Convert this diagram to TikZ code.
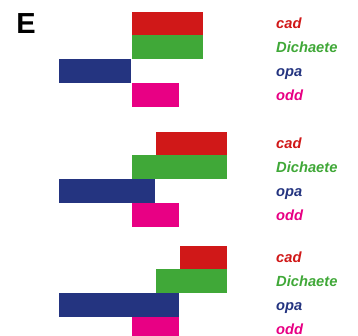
\documentclass[tikz,border=0pt]{standalone}
\usepackage{fontspec}
\setmainfont{Liberation Sans}
\definecolor{cadred}{RGB}{208,24,24}
\definecolor{dichgreen}{RGB}{64,168,56}
\definecolor{opablue}{RGB}{36,52,128}
\definecolor{oddpink}{RGB}{232,0,132}
\tikzset{
  lbl/.style={anchor=base west, inner sep=0pt, font=\fontsize{14.7}{16}\selectfont\bfseries\itshape},
  redbar/.style={fill=cadred},
  greenbar/.style={fill=dichgreen},
  bluebar/.style={fill=opablue},
  pinkbar/.style={fill=oddpink}
}
% #1 y-top, #2 red left, #3 green left, #4 blue right, #5 right shift
\newcommand{\expanel}[5]{%
  \fill[redbar]   (#2,#1) rectangle (227.3-#5,#1+23.7);
  \fill[greenbar] (#3,#1+23.6) rectangle (227.3-#5,#1+47.7);
  \fill[bluebar]  (59.3,#1+47.6) rectangle (#4,#1+71.7);
  \fill[pinkbar]  (131.5,#1+71.6) rectangle (179.3,#1+95.7);
  \node[lbl, text=cadred]    at (276,#1+16.8) {cad};
  \node[lbl, text=dichgreen] at (276,#1+40.8) {Dichaete};
  \node[lbl, text=opablue]   at (276,#1+64.6) {opa};
  \node[lbl, text=oddpink]   at (276,#1+88.6) {odd};
}
\begin{document}
\begin{tikzpicture}[x=1pt,y=-1pt]
\useasboundingbox (0,0) rectangle (358,336);
\clip (0,0) rectangle (358,336);
\node[anchor=base west, inner sep=0pt, font=\fontsize{29}{32}\selectfont\bfseries] (E) at (16.2,33.3) {E};
\expanel{11.6}{131.5}{131.5}{131.3}{24}
\expanel{131.6}{155.5}{131.5}{155.3}{0}
\expanel{245.6}{179.5}{155.5}{179.3}{0}
\end{tikzpicture}
\end{document}
